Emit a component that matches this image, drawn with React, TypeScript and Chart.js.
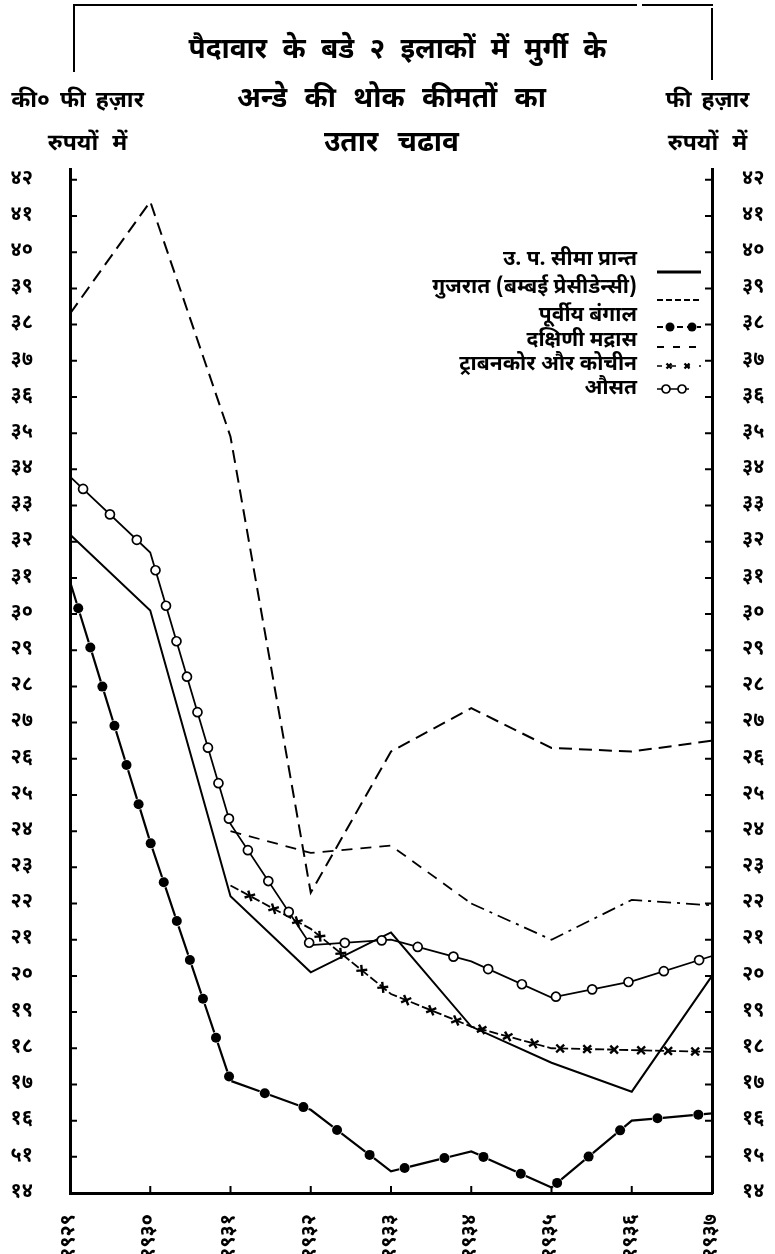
import React, { useEffect, useRef } from "react";
import { Chart, registerables } from "chart.js";

Chart.register(...registerables);

const FONT = "'Noto Sans Devanagari', 'Lohit Devanagari', 'Mukta', 'Noto Sans', 'DejaVu Sans', sans-serif";

// ---------- data ----------
const years = ["१९२९", "१९३०", "१९३१", "१९३२", "१९३३", "१९३४", "१९३५", "१९३६", "१९३७"];

const nwfp = [32.2, 30.1, 22.2, 20.1, 21.2, 18.6, 17.6, 16.8, 20.0];
const gujarat = [38.3, 41.4, 34.9, 22.3, 26.2, 27.4, 26.3, 26.2, 26.5];
const eastBengal = [30.9, 23.7, 17.1, 16.3, 14.6, 15.15, 14.15, 16.0, 16.2];
const southMadras = [null, null, 24.0, 23.4, 23.6, 22.0, 21.0, 22.1, 21.95];
const travancore = [null, null, 22.5, 21.3, 19.5, 18.6, 18.0, 17.95, 17.9];
const average = [33.8, 31.7, 24.2, 20.85, 21.0, 20.4, 19.4, 19.85, 20.55];

const seriesLabels = [
  "उ. प. सीमा प्रान्त",
  "गुजरात (बम्बई प्रेसीडेन्सी)",
  "पूर्वीय बंगाल",
  "दक्षिणी मद्रास",
  "ट्राबनकोर और कोचीन",
  "औसत",
];

const tickValues = [14, 15, 16, 17, 18, 19, 20, 21, 22, 23, 24, 25, 26, 27, 28, 29, 30, 31, 32, 33, 34, 35, 36, 37, 38, 39, 40, 41, 42];
const leftTickLabels = ["१४", "५१", "१६", "१७", "१८", "१९", "२०", "२१", "२२", "२३", "२४", "२५", "२६", "२७", "२८", "२९", "३०", "३१", "३२", "३३", "३४", "३५", "३६", "३७", "३८", "३९", "४०", "४१", "४२"];
const rightTickLabels = ["१४", "१५", "१६", "१७", "१८", "१९", "२०", "२१", "२२", "२३", "२४", "२५", "२६", "२७", "२८", "२९", "३०", "३१", "३२", "३३", "३४", "३५", "३६", "३७", "३८", "३९", "४०", "४१", "४२"];

const titleLines = ["पैदावार के बडे २ इलाकों में मुर्गी के", "अन्डे की थोक कीमतों का", "उतार चढाव"];
const leftUnit = ["की० फी हज़ार", "रुपयों में"];
const rightUnit = ["फी हज़ार", "रुपयों में"];

// ---------- helpers ----------
function drawMarker(ctx: CanvasRenderingContext2D, kind: string, x: number, y: number, ang: number, size: number) {
  ctx.save();
  ctx.translate(x, y);
  ctx.setLineDash([]);
  if (kind === "dot") {
    ctx.beginPath();
    ctx.arc(0, 0, size, 0, Math.PI * 2);
    ctx.fillStyle = "#000";
    ctx.fill();
  } else if (kind === "ring") {
    ctx.beginPath();
    ctx.arc(0, 0, size, 0, Math.PI * 2);
    ctx.fillStyle = "#fff";
    ctx.fill();
    ctx.lineWidth = 1.7;
    ctx.strokeStyle = "#000";
    ctx.stroke();
  } else if (kind === "cross") {
    ctx.rotate(ang + Math.PI / 4);
    ctx.beginPath();
    ctx.moveTo(-size, 0);
    ctx.lineTo(size, 0);
    ctx.moveTo(0, -size);
    ctx.lineTo(0, size);
    ctx.lineWidth = 2.4;
    ctx.strokeStyle = "#000";
    ctx.stroke();
  }
  ctx.restore();
}

const patternPlugin = {
  id: "patternMarkers",
  afterDatasetsDraw(chart: any) {
    const ctx = chart.ctx as CanvasRenderingContext2D;
    chart.data.datasets.forEach((ds: any, i: number) => {
      const cfg = ds.pattern;
      if (!cfg) return;
      const meta = chart.getDatasetMeta(i);
      const pts = meta.data
        .filter((_: any, j: number) => ds.data[j] != null)
        .map((p: any) => ({ x: p.x, y: p.y }));
      let next = cfg.offset;
      let acc = 0;
      for (let k = 0; k < pts.length - 1; k++) {
        const a = pts[k];
        const b = pts[k + 1];
        const dx = b.x - a.x;
        const dy = b.y - a.y;
        const len = Math.hypot(dx, dy);
        const ang = Math.atan2(dy, dx);
        while (next <= acc + len) {
          const t = (next - acc) / len;
          drawMarker(ctx, cfg.kind, a.x + dx * t, a.y + dy * t, ang, cfg.size);
          next += cfg.spacing;
        }
        acc += len;
      }
    });
  },
};

const innerTicksPlugin = {
  id: "innerTicks",
  afterDraw(chart: any) {
    const ctx = chart.ctx as CanvasRenderingContext2D;
    const { left, right, bottom } = chart.chartArea;
    const y = chart.scales.y;
    const x = chart.scales.x;
    ctx.save();
    ctx.strokeStyle = "#000";
    ctx.lineWidth = 2;
    ctx.setLineDash([]);
    ctx.beginPath();
    y.ticks.forEach((t: any) => {
      const py = y.getPixelForValue(t.value);
      ctx.moveTo(left, py);
      ctx.lineTo(left + 7, py);
      ctx.moveTo(right, py);
      ctx.lineTo(right - 7, py);
    });
    x.ticks.forEach((_: any, i: number) => {
      const px = x.getPixelForTick(i);
      ctx.moveTo(px, bottom);
      ctx.lineTo(px, bottom - 7);
    });
    ctx.stroke();
    ctx.restore();
  },
};

const legendPlugin = {
  id: "customLegend",
  afterDraw(chart: any) {
    const ctx = chart.ctx as CanvasRenderingContext2D;
    const textRight = 637;
    const sx0 = 657;
    const sx1 = 701;
    const rows = [
      { ty: 261, sy: 272 },
      { ty: 289, sy: 300 },
      { ty: 317, sy: 327 },
      { ty: 342, sy: 347 },
      { ty: 366, sy: 366 },
      { ty: 390, sy: 389 },
    ];
    ctx.save();
    ctx.fillStyle = "#000";
    ctx.font = `bold 21px ${FONT}`;
    ctx.textAlign = "right";
    ctx.textBaseline = "middle";
    chart.data.datasets.forEach((ds: any, i: number) => {
      const r = rows[i];
      ctx.fillText(ds.label, textRight, r.ty);
      ctx.strokeStyle = "#000";
      ctx.beginPath();
      if (i === 0) {
        ctx.lineWidth = 3;
        ctx.setLineDash([]);
        ctx.moveTo(sx0, r.sy);
        ctx.lineTo(sx1, r.sy);
        ctx.stroke();
      } else if (i === 1) {
        ctx.lineWidth = 2;
        ctx.setLineDash([6, 3]);
        ctx.moveTo(sx0, r.sy);
        ctx.lineTo(sx1, r.sy);
        ctx.stroke();
      } else if (i === 2) {
        ctx.lineWidth = 2;
        ctx.setLineDash([6, 4]);
        ctx.moveTo(sx0, r.sy);
        ctx.lineTo(sx1, r.sy);
        ctx.stroke();
        drawMarker(ctx, "dot", sx0 + 13, r.sy, 0, 4.5);
        drawMarker(ctx, "dot", sx0 + 35, r.sy, 0, 4.5);
      } else if (i === 3) {
        ctx.lineWidth = 1.8;
        ctx.setLineDash([7, 9]);
        ctx.moveTo(sx0, r.sy);
        ctx.lineTo(sx1, r.sy);
        ctx.stroke();
      } else if (i === 4) {
        ctx.lineWidth = 1.5;
        ctx.setLineDash([5, 9]);
        ctx.moveTo(sx0, r.sy);
        ctx.lineTo(sx1, r.sy);
        ctx.stroke();
        drawMarker(ctx, "cross", sx0 + 12, r.sy, 0, 3.5);
        drawMarker(ctx, "cross", sx0 + 30, r.sy, 0, 3.5);
      } else if (i === 5) {
        ctx.lineWidth = 1.5;
        ctx.setLineDash([]);
        ctx.moveTo(sx0, r.sy);
        ctx.lineTo(sx0 + 32, r.sy);
        ctx.stroke();
        drawMarker(ctx, "ring", sx0 + 9, r.sy, 0, 4);
        drawMarker(ctx, "ring", sx0 + 25, r.sy, 0, 4);
      }
    });
    ctx.restore();
  },
};

export default function App() {
  const canvasRef = useRef<HTMLCanvasElement | null>(null);

  useEffect(() => {
    if (!canvasRef.current) return;
    const chart = new Chart(canvasRef.current, {
      type: "line",
      data: {
        labels: years,
        datasets: [
          {
            label: seriesLabels[0],
            data: nwfp,
            borderColor: "#000",
            borderWidth: 2,
            pointRadius: 0,
            tension: 0,
          },
          {
            label: seriesLabels[1],
            data: gujarat,
            borderColor: "#000",
            borderWidth: 2,
            borderDash: [13, 7],
            pointRadius: 0,
            tension: 0,
          },
          {
            label: seriesLabels[2],
            data: eastBengal,
            borderColor: "#000",
            borderWidth: 2.2,
            borderDash: [30, 11],
            borderDashOffset: 7.5,
            pointRadius: 0,
            tension: 0,
            pattern: { kind: "dot", spacing: 41, offset: 28, size: 5 },
          } as any,
          {
            label: seriesLabels[3],
            data: southMadras,
            borderColor: "#000",
            borderWidth: 1.8,
            borderDash: [11, 8],
            pointRadius: 0,
            tension: 0,
            segment: {
              borderDash: (c: any) => (c.p0DataIndex >= 5 ? [14, 6, 3, 6] : [11, 8]),
            },
          } as any,
          {
            label: seriesLabels[4],
            data: travancore,
            borderColor: "#000",
            borderWidth: 1.8,
            borderDash: [9, 3],
            pointRadius: 0,
            tension: 0,
            pattern: { kind: "cross", spacing: 27, offset: 22, size: 5.5 },
          } as any,
          {
            label: seriesLabels[5],
            data: average,
            borderColor: "#000",
            borderWidth: 1.8,
            pointRadius: 0,
            tension: 0,
            pattern: { kind: "ring", spacing: 37, offset: 18, size: 4.5 },
          } as any,
        ],
      },
      options: {
        animation: false,
        responsive: true,
        maintainAspectRatio: false,
        layout: { padding: { top: 169, left: 0, right: 0, bottom: 0 } },
        plugins: {
          legend: { display: false },
          title: { display: false },
          tooltip: { enabled: false },
        },
        scales: {
          x: {
            type: "category",
            offset: false,
            grid: { display: false },
            border: { display: true, color: "#000", width: 3 },
            ticks: {
              autoSkip: false,
              minRotation: 90,
              maxRotation: 90,
              padding: 13,
              color: "#000",
              font: { family: FONT, size: 20, weight: "bold" },
            },
            afterFit: (s: any) => {
              s.height = 61;
            },
          },
          y: {
            type: "linear",
            position: "left",
            min: 14,
            max: 42.3,
            grid: { display: false },
            border: { display: true, color: "#000", width: 3 },
            afterBuildTicks: (s: any) => {
              s.ticks = tickValues.map((v) => ({ value: v }));
            },
            ticks: {
              padding: 29,
              color: "#000",
              font: { family: FONT, size: 20, weight: "bold" },
              callback: (v: any) => {
                const i = tickValues.indexOf(Number(v));
                return i >= 0 ? leftTickLabels[i] : "";
              },
            },
            afterFit: (s: any) => {
              s.width = 70;
            },
          },
          y2: {
            type: "linear",
            position: "right",
            min: 14,
            max: 42.3,
            grid: { display: false },
            border: { display: true, color: "#000", width: 3 },
            afterBuildTicks: (s: any) => {
              s.ticks = tickValues.map((v) => ({ value: v }));
            },
            ticks: {
              padding: 22,
              color: "#000",
              font: { family: FONT, size: 20, weight: "bold" },
              callback: (v: any) => {
                const i = tickValues.indexOf(Number(v));
                return i >= 0 ? rightTickLabels[i] : "";
              },
            },
            afterFit: (s: any) => {
              s.width = 63;
            },
          },
        },
      } as any,
      plugins: [patternPlugin, innerTicksPlugin, legendPlugin],
    });
    return () => chart.destroy();
  }, []);

  const lineStyle = (top: number, left: number, width: number, fontSize: number, wordSpacing: number): React.CSSProperties => ({
    position: "absolute",
    top,
    left,
    width,
    textAlign: "center",
    fontSize,
    fontWeight: "bold",
    lineHeight: "36px",
    whiteSpace: "nowrap",
    wordSpacing,
  });

  return (
    <div
      style={{
        position: "absolute",
        left: 0,
        top: 0,
        width: 775,
        height: 1254,
        background: "#fff",
        fontFamily: FONT,
        color: "#000",
        overflow: "hidden",
      }}
    >
      <div style={{ position: "absolute", left: 0, top: 0, width: 775, height: 1254 }}>
        <canvas ref={canvasRef} />
      </div>
      {/* header bracket */}
      <div style={{ position: "absolute", left: 74, top: 4, width: 563, borderTop: "2px solid #000" }} />
      <div style={{ position: "absolute", left: 642, top: 4, width: 71, borderTop: "2px solid #000" }} />
      <div style={{ position: "absolute", left: 73, top: 4, height: 68, borderLeft: "2px solid #000" }} />
      <div style={{ position: "absolute", left: 711, top: 8, height: 72, borderLeft: "2px solid #000" }} />
      {/* title */}
      <div style={lineStyle(33, 10, 775, 28, 8)}>{titleLines[0]}</div>
      <div style={lineStyle(82, 4, 775, 28, 10)}>{titleLines[1]}</div>
      <div style={lineStyle(126, 4, 775, 28, 12)}>{titleLines[2]}</div>
      {/* unit labels */}
      <div style={lineStyle(83, 0, 155, 23, 4)}>{leftUnit[0]}</div>
      <div style={lineStyle(126, 15, 145, 23, 8)}>{leftUnit[1]}</div>
      <div style={lineStyle(83, 645, 125, 23, 4)}>{rightUnit[0]}</div>
      <div style={lineStyle(126, 645, 125, 23, 8)}>{rightUnit[1]}</div>
    </div>
  );
}
